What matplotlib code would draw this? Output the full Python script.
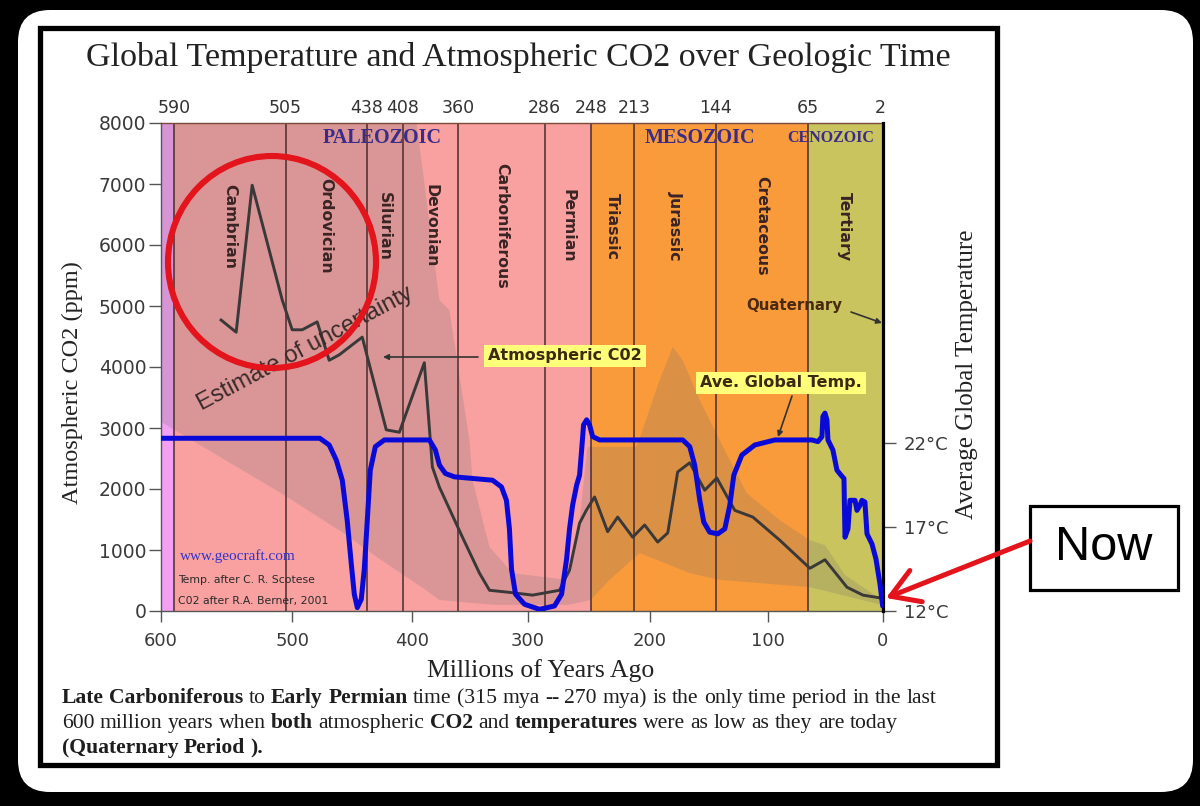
import numpy as np
import matplotlib
matplotlib.use('Agg')
import matplotlib.pyplot as plt
from matplotlib.patches import Ellipse, Rectangle, FancyBboxPatch, FancyArrowPatch
from matplotlib.transforms import IdentityTransform, blended_transform_factory

W, H = 1200, 806

# ---------------- data ----------------
CO2_AGE = [554.2, 542.7, 530.5, 507.6, 500.0, 491.7, 479.2, 469.2, 460.8, 441.7,
           421.7, 410.8, 389.6, 382.6, 376.5, 356.5, 341.7, 333.0, 313.0, 295.9,
           273.8, 265.6, 257.4, 251.6, 245.1, 234.4, 226.2, 213.9, 204.1, 193.2,
           184.7, 176.3, 166.1, 153.4, 143.2, 128.0, 112.7, 89.6, 63.5, 50.4,
           31.3, 17.4, 0.9]
CO2_PPM = [4770, 4570, 6980, 5100, 4610, 4610, 4740, 4110, 4200, 4490,
           2970, 2930, 4070, 2360, 2030, 1210, 620, 340, 300, 260,
           340, 670, 1440, 1660, 1870, 1300, 1540, 1210, 1410, 1130,
           1280, 2280, 2430, 1980, 2180, 1650, 1540, 1160, 700, 840,
           390, 260, 210]

TEMP_AGE = [600, 477, 469.2, 463.3, 458.3, 454.2, 450.8, 448.3, 445.8, 442.5,
            440.0, 437.5, 435.0, 430.8, 423.3, 385.2, 380.0, 376.5, 371.3, 363.5,
            330.4, 322.6, 318.3, 315.7, 313.9, 310.4, 302.6, 290.2, 277.9, 272.1,
            268.0, 265.6, 263.1, 259.8, 257.4, 255.7, 254.1, 251.6, 249.2, 246.7,
            241.0, 172.0, 166.1, 161.9, 157.6, 154.2, 149.2, 142.4, 136.4, 132.2,
            128.8, 122.0, 111.0, 93.9, 61.7, 56.5, 53.0, 52.2, 50.4, 48.7,
            47.8, 43.5, 40.0, 36.5, 33.9, 33.0, 30.4, 28.7, 24.3, 22.6,
            20.0, 18.3, 15.7, 13.9, 9.6, 6.1, 2.6, 0.3]
TEMP_C = [22.3, 22.3, 21.9, 21.0, 19.8, 17.4, 14.8, 13.0, 12.2, 12.7,
          14.5, 17.4, 20.4, 21.8, 22.2, 22.2, 21.6, 20.7, 20.2, 20.0,
          19.8, 19.4, 18.6, 16.9, 14.5, 13.0, 12.4, 12.1, 12.3, 13.0,
          15.1, 16.9, 18.3, 19.5, 20.1, 21.6, 23.1, 23.4, 23.1, 22.4,
          22.2, 22.2, 21.8, 20.7, 18.6, 17.3, 16.7, 16.6, 16.9, 18.3,
          20.1, 21.3, 21.9, 22.2, 22.2, 22.1, 22.4, 23.6, 23.8, 23.4,
          22.2, 21.6, 20.4, 20.1, 19.9, 16.4, 16.9, 18.6, 18.6, 18.0,
          18.3, 18.6, 18.5, 16.6, 16.0, 15.1, 13.6, 12.3]

BAND_UP_AGE = [600, 403, 376.5, 367.8, 350.4, 347.8, 333.0, 313.0, 267.2, 257.4,
               250.8, 210.7, 191.5, 180.5, 172.0, 157.6, 140.7, 117.8, 89.6, 63.5,
               50.4, 33.0, 0.9]
BAND_UP_PPM = [9000, 9000, 5100, 4930, 2800, 2150, 1050, 620, 510, 1490,
               2690, 2690, 3790, 4330, 4110, 3460, 2800, 1930, 1490, 1160,
               1080, 590, 180]
BAND_LO_AGE = [600, 509.9, 457.5, 430.0, 389.6, 376.5, 328.7, 267.2, 248.4, 232.8,
               208.2, 166.1, 140.7, 63.5, 0.9]
BAND_LO_PPM = [3100, 1950, 1280, 890, 360, 180, 100, 100, 180, 510,
               950, 620, 510, 390, 100]

PERIOD_NAMES = ['Cambrian', 'Ordovician', 'Silurian', 'Devonian', 'Carboniferous',
                'Permian', 'Triassic', 'Jurassic', 'Cretaceous', 'Tertiary']
PERIOD_START = [590, 505, 438, 408, 360, 286, 248, 213, 144, 65]
PERIOD_END = [505, 438, 408, 360, 286, 248, 213, 144, 65, 2]
BOUNDARY_LABELS = [590, 505, 438, 408, 360, 286, 248, 213, 144, 65, 2]

ERA_NAMES = ['PALEOZOIC', 'MESOZOIC', 'CENOZOIC']
ERA_START = [590, 248, 65]
ERA_END = [248, 65, 0]

X_TICKS = [600, 500, 400, 300, 200, 100, 0]
CO2_TICKS = [0, 1000, 2000, 3000, 4000, 5000, 6000, 7000, 8000]
TEMP_TICKS = [12, 17, 22]
TEMP_TICK_LABELS = ['12°C', '17°C', '22°C']

# hand-drawn (non-uniform) time axis of the original chart
AXIS_KNOT_AGE = [0, 100, 200, 300, 400, 500, 600]
AXIS_KNOT_POS = [0, 115, 233, 355, 470, 590, 721]


def _pw(v, xs, ys):
    v = np.asarray(v, dtype=float)
    xs = np.asarray(xs, float)
    ys = np.asarray(ys, float)
    out = np.interp(v, xs, ys)
    s0 = (ys[1] - ys[0]) / (xs[1] - xs[0])
    s1 = (ys[-1] - ys[-2]) / (xs[-1] - xs[-2])
    out = np.where(v < xs[0], ys[0] + (v - xs[0]) * s0, out)
    out = np.where(v > xs[-1], ys[-1] + (v - xs[-1]) * s1, out)
    return out


def fwd(a):
    return _pw(a, AXIS_KNOT_AGE, AXIS_KNOT_POS)


def inv(p):
    return _pw(p, AXIS_KNOT_POS, AXIS_KNOT_AGE)


def fx(x):
    return x / W


def fy(y):
    return 1 - y / H


# ---------------- figure ----------------
fig = plt.figure(figsize=(12, 8.06), dpi=100, facecolor='black')
ident = IdentityTransform()

card = FancyBboxPatch((18, H - 792), 1175, 782, boxstyle='round,pad=0,rounding_size=32',
                      transform=ident, facecolor='white', edgecolor='none', zorder=-10)
fig.add_artist(card)
frame = Rectangle((40, H - 765), 957, 737, transform=ident, facecolor='none',
                  edgecolor='black', linewidth=3.8, zorder=-5)
fig.add_artist(frame)

ax = fig.add_axes([161 / W, 1 - 611 / H, (883 - 161) / W, (611 - 123) / H])
ax.set_xscale('function', functions=(fwd, inv))
ax.set_xlim(600, 0)
ax.set_ylim(0, 8000)

# background period colours
ax.axvspan(600, 590, color='#f4a0f2', lw=0, zorder=0)
ax.axvspan(590, 248, color='#f9a1a1', lw=0, zorder=0)
ax.axvspan(248, 65, color='#f99b3b', lw=0, zorder=0)
ax.axvspan(65, 0, color='#c9c45e', lw=0, zorder=0)

# uncertainty band
ax.fill(np.r_[BAND_UP_AGE, BAND_LO_AGE[::-1]], np.r_[BAND_UP_PPM, BAND_LO_PPM[::-1]],
        color='#707070', alpha=0.22, lw=0, zorder=1)

# period boundary lines
for b in PERIOD_START:
    ax.axvline(b, color='#4a2c2c', lw=1.1, zorder=2)

# period names
for name, s, e in zip(PERIOD_NAMES, PERIOD_START, PERIOD_END):
    xm = float(inv((fwd(s) + fwd(e)) / 2))
    ax.text(xm, 6310, name, rotation=-90, ha='center', va='center', fontsize=11.3,
            fontweight='bold', color='#3a2424', zorder=3)

# era names
btrans = blended_transform_factory(ax.transData, ax.transAxes)
era_dx = [0, 0, -11]
era_size = [14.5, 14.5, 11.5]
for name, s, e, dx, sz in zip(ERA_NAMES, ERA_START, ERA_END, era_dx, era_size):
    xm = float(inv((fwd(s) + fwd(e)) / 2))
    ax.annotate(name, xy=(xm, 1 - 15 / 488), xycoords=btrans, xytext=(dx, 0),
                textcoords='offset points', ha='center', va='center', fontsize=sz,
                fontweight='bold', family='Liberation Serif', color='#3b2c88', zorder=3)

# boundary labels on top
for b in BOUNDARY_LABELS:
    ax.text(b, 1 + 15 / 488, str(b), transform=btrans, ha='center', va='center',
            fontsize=12.5, color='#333333')

# CO2 curve
ax.plot(CO2_AGE, CO2_PPM, color='#3a3838', lw=2.1, zorder=4, solid_joinstyle='round')

ax.set_xticks(X_TICKS)
ax.set_xticklabels([str(t) for t in X_TICKS])
ax.set_yticks(CO2_TICKS)
ax.tick_params(axis='y', direction='out', length=8.5, width=1, pad=2, labelsize=13.5,
               labelcolor='#3a3a3a', color='#555555')
ax.tick_params(axis='x', direction='out', length=8, width=1, pad=7, labelsize=13,
               labelcolor='#3a3a3a', color='#555555')
ax.spines['right'].set_visible(False)
ax.spines['left'].set_color('#555555')
ax.spines['bottom'].set_color('#555555')
ax.spines['top'].set_color('#7a4a3a')
for s in ['left', 'bottom', 'top']:
    ax.spines[s].set_linewidth(1)

# temperature axis
ax2 = ax.twinx()
ax2.set_ylim(12, 41.1)
ax2.plot(TEMP_AGE, TEMP_C, color='#0a0ad8', lw=3.6, zorder=5, solid_joinstyle='round',
         solid_capstyle='round')
ax2.set_yticks(TEMP_TICKS)
ax2.set_yticklabels(TEMP_TICK_LABELS)
ax2.tick_params(axis='y', direction='out', length=9, width=1, pad=6, labelsize=13,
                labelcolor='#3a3a3a', color='#555555')
for s in ['left', 'top', 'bottom']:
    ax2.spines[s].set_visible(False)
ax2.spines['right'].set_color('black')
ax2.spines['right'].set_linewidth(2.3)

# ---------------- texts ----------------
fig.text(fx(518), fy(66), 'Global Temperature and Atmospheric CO2 over Geologic Time',
         ha='center', va='baseline', fontsize=24.5, family='Liberation Serif', color='#222222')
fig.text(fx(541), fy(677), 'Millions of Years Ago', ha='center', va='baseline',
         fontsize=18.5, family='Liberation Serif', color='#222222')
fig.text(fx(72), fy(383), 'Atmospheric CO2 (ppm)', rotation=90, ha='center', va='center',
         fontsize=17.5, family='Liberation Serif', color='#222222')
fig.text(fx(967), fy(374), 'Average Global Temperature', rotation=90, ha='center', va='center',
         fontsize=18, family='Liberation Serif', color='#222222')

fig.text(fx(305), fy(349), 'Estimate of uncertainty', rotation=28, ha='center', va='center',
         fontsize=17, family='Liberation Sans', color='#3a2a2a', rotation_mode='anchor')

fig.text(fx(180), fy(556), 'www.geocraft.com', ha='left', va='center', fontsize=11,
         family='Liberation Serif', color='#3333cc')
fig.text(fx(178), fy(580), 'Temp. after C. R. Scotese', ha='left', va='center', fontsize=7.8,
         color='#2a2a2a')
fig.text(fx(178), fy(601), 'C02 after R.A. Berner, 2001', ha='left', va='center', fontsize=7.8,
         color='#2a2a2a')

ybox = dict(boxstyle='square,pad=0.25', facecolor='#ffff7a', edgecolor='none')
fig.text(fx(565), fy(356), 'Atmospheric C02', ha='center', va='center', fontsize=11.5,
         fontweight='bold', color='#3a2a10', bbox=ybox)
fig.text(fx(781), fy(383), 'Ave. Global Temp.', ha='center', va='center', fontsize=11.5,
         fontweight='bold', color='#3a2a10', bbox=ybox)
fig.text(fx(794), fy(306), 'Quaternary', ha='center', va='center', fontsize=10.8,
         fontweight='bold', color='#4a2a10')


def arrow(p0, p1, color='#333333', lw=1.2, style='-|>', ms=8):
    a = FancyArrowPatch((p0[0], H - p0[1]), (p1[0], H - p1[1]), transform=ident,
                        arrowstyle=style, mutation_scale=ms, color=color, lw=lw,
                        shrinkA=0, shrinkB=0, zorder=20)
    fig.add_artist(a)


arrow((478, 357), (383, 357))
arrow((792, 396), (778, 437))
arrow((851, 312), (882, 323))

# red circle
circ = Ellipse((272, H - 262), 208, 212, transform=ident, facecolor='none',
               edgecolor='#e3141c', lw=4.4, zorder=25)
fig.add_artist(circ)

# "Now" box and arrow
nowbox = Rectangle((1030, H - 590), 148, 84, transform=ident, facecolor='white',
                   edgecolor='black', lw=2.3, zorder=20)
fig.add_artist(nowbox)
fig.text(fx(1104), fy(548), 'Now', ha='center', va='center', fontsize=35,
         family='Liberation Sans', color='black', zorder=21)
arrow((1030, 541), (886, 598), color='#e3141c', lw=3.6,
      style='->,head_length=0.9,head_width=0.55', ms=22)

# ---------------- paragraph with mixed bold ----------------
PARA = [
    [("Late Carboniferous", True), ("to", False), ("Early Permian", True),
     ("time (315 mya -- 270 mya) is the only time period in the last", False)],
    [("600 million years when", False), ("both", True), ("atmospheric", False), ("CO2", True),
     ("and", False), ("temperatures", True), ("were as low as they are today", False)],
    [("(Quaternary Period ).", True)],
]
PARA_BASE = [703, 728, 753]
psize = 15.6
renderer = fig.canvas.get_renderer()


def _w(s, bold):
    t = fig.text(0, 0, s, fontsize=psize, family='Liberation Serif',
                 fontweight='bold' if bold else 'normal')
    w = t.get_window_extent(renderer).width
    t.remove()
    return w


space_w = _w('a a', False) - _w('aa', False)
for line, yb in zip(PARA, PARA_BASE):
    x = 62
    for seg, bold in line:
        for word in seg.split(' '):
            t = fig.text(fx(x), fy(yb), word, fontsize=psize, family='Liberation Serif',
                         fontweight='bold' if bold else 'normal', color='#1e1e1e',
                         ha='left', va='baseline')
            x += t.get_window_extent(renderer).width + space_w

fig.savefig('out.png', dpi=100, facecolor='black')
